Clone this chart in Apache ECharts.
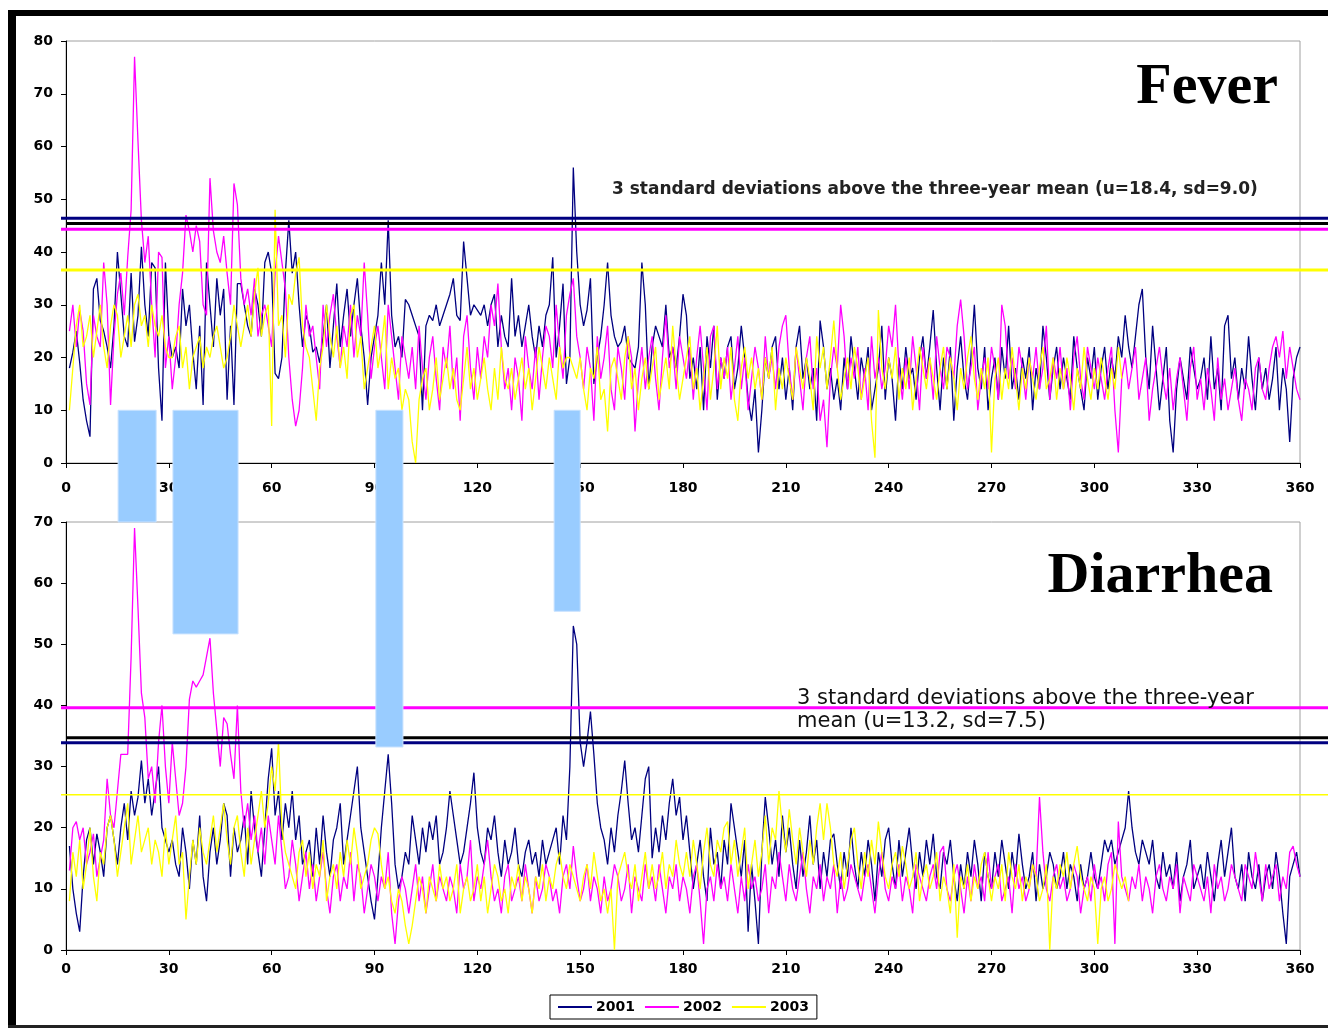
<!DOCTYPE html>
<html>
<head>
<meta charset="utf-8">
<script src="https://cdn.jsdelivr.net/npm/echarts@6/dist/echarts.min.js"></script>
<style>
html,body{margin:0;padding:0;background:#fff;}
#chart{width:1328px;height:1028px;}
</style>
</head>
<body>
<div id="chart"></div>
<script>
// ---------- DATA ----------
const seriesNames = ['2001', '2002', '2003'];
const seriesColors = ['#000080', '#ff00ff', '#ffff00'];
const xTicks = { min: 0, max: 360, interval: 30 };

const fever2001 = [
18,21,25,19,12,8,5,33,35,27,
25,22,18,26,40,32,24,22,36,23,
28,41,30,24,38,37,18,8,38,24,
20,22,18,33,26,30,21,14,26,11,
38,30,22,35,28,33,12,26,11,34,
34,30,26,24,33,30,24,38,40,36,
17,16,20,36,46,36,40,30,22,28,
26,21,22,19,24,30,18,26,34,22,
28,33,24,30,35,26,20,11,20,24,
28,38,30,46,28,22,24,20,31,30,
28,26,24,10,26,28,27,30,26,28,
30,32,35,28,27,42,35,28,30,29,
28,30,26,30,32,22,28,24,22,35,
24,28,22,26,30,24,20,26,22,28,
30,39,20,26,34,15,20,56,40,30,
26,29,35,15,20,24,30,38,28,24,
22,23,26,20,19,18,22,38,30,14,
22,26,24,22,30,20,22,18,24,32,
28,16,20,14,22,10,24,18,26,12,
20,16,22,24,14,18,26,20,12,8,
14,2,10,20,16,22,24,14,20,12,
18,10,22,26,16,20,14,18,8,27,
22,14,18,12,16,10,20,14,24,18,
12,20,16,22,10,14,18,26,12,20,
16,8,20,14,22,16,18,12,20,24,
16,22,29,18,10,20,14,22,8,18,
24,16,12,20,30,18,14,22,10,16,
20,12,22,16,26,14,18,12,20,16,
22,10,18,14,26,20,12,18,22,14,
20,16,12,24,18,14,10,20,16,22,
12,18,22,14,20,16,24,20,28,22,
18,24,30,33,20,14,26,18,10,16,
22,8,2,14,20,16,12,22,18,14,
16,20,12,24,14,18,10,26,28,16,
20,12,18,14,24,16,10,20,14,18,
12,16,22,10,18,14,4,16,20,22
];
const fever2002 = [
25,30,22,29,25,15,11,28,24,22,
38,30,11,24,32,36,28,39,48,77,
61,46,38,43,30,20,40,39,18,24,
14,20,30,36,47,44,40,45,42,30,
28,54,44,40,38,43,36,30,53,49,
35,30,33,28,35,24,28,30,26,22,
36,43,38,33,20,12,7,10,18,30,
24,26,20,14,30,22,28,32,24,18,
26,22,30,20,28,24,38,28,16,22,
26,20,14,30,24,18,12,24,20,16,
22,14,26,18,12,20,24,16,10,22,
18,26,14,20,8,24,28,18,12,22,
16,24,20,30,26,34,22,14,18,10,
20,16,8,24,18,14,22,12,20,26,
24,18,30,22,16,28,32,35,24,20,
14,22,18,8,24,16,20,26,14,10,
22,18,12,24,20,6,16,22,14,20,
24,16,10,20,28,18,22,14,24,20,
16,22,12,20,26,18,10,24,26,14,
20,16,22,12,18,24,14,20,10,16,
22,18,12,24,16,20,14,22,26,28,
18,12,22,16,10,20,24,14,18,8,
12,3,16,22,18,30,24,14,20,16,
22,12,18,10,24,16,20,14,18,26,
22,30,18,12,20,14,24,18,10,22,
16,20,12,24,18,14,22,20,16,26,
31,24,14,18,22,10,16,20,14,22,
18,12,30,26,16,20,14,22,18,12,
20,16,22,14,18,26,12,20,16,22,
14,18,10,20,24,16,12,22,18,14,
20,16,12,18,22,10,2,16,20,14,
18,22,12,16,20,8,14,18,22,16,
12,18,10,16,20,14,8,18,22,12,
16,10,18,14,8,20,12,16,10,14,
18,12,8,16,14,10,18,20,14,12,
18,22,24,20,25,16,22,18,14,12
];
const fever2003 = [
10,18,26,30,22,24,28,20,25,30,
22,18,26,30,28,20,24,28,22,30,
32,26,28,22,30,26,24,28,22,20,
20,24,26,18,22,14,20,22,24,18,
22,20,24,26,22,18,20,24,30,26,
22,26,30,24,32,37,24,28,30,7,
48,26,28,20,32,30,36,39,26,22,
20,14,8,18,22,30,24,20,26,18,
22,16,28,30,20,24,14,18,22,26,
18,22,28,14,20,16,18,10,14,12,
4,0,12,16,18,10,14,20,12,16,
20,14,18,12,10,16,22,14,18,12,
16,20,14,10,18,12,22,16,14,18,
12,16,20,14,18,10,16,22,18,14,
20,16,12,22,18,20,20,18,16,20,
14,10,18,16,22,12,14,6,18,20,
16,12,20,24,14,18,10,16,20,14,
18,22,12,16,20,14,26,18,12,16,
20,24,14,18,10,16,22,12,18,26,
14,20,16,22,12,8,18,22,16,20,
14,18,12,20,16,22,10,18,14,20,
16,12,22,18,14,20,16,10,24,18,
22,14,20,27,18,12,16,20,14,22,
18,12,16,20,8,1,29,18,14,20,
16,22,12,18,14,20,10,16,22,18,
14,20,16,12,18,22,14,20,16,10,
18,14,20,24,16,12,18,14,20,2,
16,20,12,18,14,22,16,10,18,14,
20,16,12,18,22,14,16,20,12,18,
14,20,16,10,18,14,22,16,12,18,
14,20,16,12,18,14,22,16
];

const diarrhea2001 = [
17,10,6,3,12,18,20,14,19,16,
12,20,22,18,14,20,24,18,26,22,
25,31,24,28,22,26,30,20,18,16,
18,14,12,20,16,10,18,14,22,12,
8,16,20,14,18,24,22,12,20,16,
18,22,14,26,20,16,12,20,28,33,
22,26,18,24,20,26,18,22,14,16,
18,12,20,14,22,16,12,18,20,24,
14,18,22,26,30,20,16,12,8,5,
12,20,26,32,24,14,10,12,16,14,
22,18,14,20,16,21,18,22,14,16,
20,26,22,18,14,16,20,24,29,20,
16,14,20,18,22,16,12,18,14,16,
20,14,12,16,18,14,16,12,18,14,
16,18,20,14,22,18,30,53,50,34,
30,34,39,32,24,20,18,14,20,16,
22,26,31,24,18,20,16,22,28,30,
15,20,16,22,18,24,28,22,25,18,
22,16,10,14,18,12,8,20,14,16,
10,18,14,24,20,16,12,18,3,14,
8,1,16,25,20,14,18,12,22,16,
20,14,10,18,12,16,22,14,18,10,
16,12,18,19,14,10,16,12,20,14,
10,16,12,18,14,8,16,12,18,20,
14,10,18,12,16,20,14,10,16,12,
18,14,19,12,10,16,14,18,12,8,
14,10,16,12,18,14,8,16,12,10,
16,12,18,14,10,16,12,19,14,10,
12,16,8,14,10,12,16,14,10,12,
16,10,14,12,8,14,10,12,16,12,
10,14,18,16,18,14,16,18,20,26,
20,16,14,18,16,14,18,12,10,16,
12,14,10,16,8,12,14,18,10,12,
14,10,16,12,8,14,18,12,16,20,
12,10,14,8,16,12,10,14,8,12,
14,10,16,12,6,1,12,14,16,12
];
const diarrhea2002 = [
13,20,21,18,20,14,16,19,12,15,
18,28,22,20,26,32,32,32,48,69,
56,42,38,28,30,24,34,40,30,24,
34,28,22,24,30,41,44,43,44,45,
48,51,42,36,30,38,37,32,28,40,
26,20,24,18,22,16,20,14,22,18,
14,22,16,10,12,18,14,8,12,16,
10,14,8,12,16,10,6,12,14,8,
12,10,16,8,14,12,6,10,14,12,
8,12,10,16,6,1,8,12,10,6,
10,14,8,12,6,10,14,8,12,10,
8,12,10,6,14,10,12,18,8,12,
10,14,18,12,8,10,6,12,14,8,
10,12,8,14,10,6,12,8,10,14,
12,8,10,6,12,14,10,17,12,8,
10,14,8,12,10,6,12,8,10,14,
12,8,10,14,6,12,10,8,14,10,
12,8,14,10,6,12,10,14,8,12,
10,6,12,14,8,1,10,12,8,14,
10,12,8,14,10,6,12,8,14,10,
12,8,10,14,6,12,10,16,12,8,
14,10,8,12,16,10,6,12,10,14,
8,12,10,14,6,12,8,10,14,12,
10,8,12,14,10,6,12,16,10,8,
12,10,14,8,12,10,6,14,12,10,
8,12,14,10,16,17,10,8,12,14,
10,6,12,8,14,10,12,8,16,10,
12,14,8,10,12,6,14,10,12,8,
10,14,12,25,16,10,8,12,14,10,
12,8,10,14,12,6,10,12,8,14,
10,12,8,14,16,1,21,12,10,8,
12,10,14,8,12,10,6,12,14,10,
8,12,10,14,6,12,10,8,14,12,
10,8,12,6,14,10,12,8,10,14,
12,10,8,14,12,10,16,12,8,14,
10,12,14,8,12,10,16,17,14,12
];
const diarrhea2003 = [
8,16,12,18,10,14,20,12,8,16,
14,20,22,18,12,16,20,24,14,18,
22,16,18,20,14,18,16,12,20,14,
18,22,14,16,5,12,18,14,20,16,
14,18,22,16,20,24,18,14,20,22,
16,12,20,14,18,22,26,20,24,30,
26,34,20,16,14,12,10,16,18,12,
16,10,14,12,18,8,12,14,10,16,
12,18,14,20,16,10,12,14,18,20,
19,14,10,12,8,6,10,8,4,1,
4,8,12,10,6,12,10,8,14,10,
12,8,10,14,6,10,12,8,10,14,
8,12,6,10,14,12,8,10,6,12,
10,14,8,12,10,6,12,10,14,8,
12,10,14,16,12,10,14,12,10,8,
12,14,10,16,12,8,10,6,10,0,
12,14,16,12,10,14,8,12,16,10,
14,10,12,16,10,14,12,18,14,12,
16,12,18,14,10,16,20,14,12,18,
16,20,21,14,18,12,16,20,10,14,
18,12,16,22,14,20,18,26,20,16,
23,18,14,20,16,12,18,14,20,24,
18,24,20,14,12,16,10,14,18,20,
14,10,16,12,18,14,21,16,12,10,
14,16,12,17,14,10,12,16,8,12,
14,10,12,16,8,12,10,6,14,2,
12,10,14,8,12,10,14,16,12,8,
12,10,14,8,16,12,10,14,8,12,
10,14,12,8,10,14,0,12,10,14,
12,16,10,14,17,12,10,8,12,10,
1,10,12,8,10,14,12,10,12,8
];

// Threshold lines (3 SD above mean): per-year and three-year overall (black)
const feverThresholdValues = [46.4, 45.4, 44.3, 36.6];
const feverThresholdColors = ['#000080', '#000000', '#ff00ff', '#ffff00'];
const feverThresholdWidths = [3, 3, 3, 3];
const diarrheaThresholdValues = [39.6, 34.7, 33.9, 25.4];
const diarrheaThresholdColors = ['#ff00ff', '#000000', '#000080', '#ffff00'];
const diarrheaThresholdWidths = [3, 3, 3, 1.5];

// Highlighted outbreak periods: [startDay, endDay, fever value (top), diarrhea value (bottom)]
const periodStart = [15.2, 31.2, 90.4, 142.4];
const periodEnd = [26.3, 50.2, 98.3, 150.0];
const periodFeverTop = [10, 10, 10, 10];
const periodDiarrheaBottom = [70, 51.7, 33.2, 55.4];

const feverYAxis = { min: 0, max: 80, interval: 10 };
const diarrheaYAxis = { min: 0, max: 70, interval: 10 };

const feverTitle = 'Fever';
const diarrheaTitle = 'Diarrhea';
const feverNote = '3 standard deviations above the three-year mean (u=18.4, sd=9.0)';
const diarrheaNote = ['3 standard deviations above the three-year', 'mean (u=13.2, sd=7.5)'];

// ---------- CHART ----------
const toPairs = arr => arr.map((v, i) => [i + 1, v]);
const chart = echarts.init(document.getElementById('chart'), null, { renderer: 'canvas' });

const labelStyle = { color: '#000', fontWeight: 'bold', fontSize: 14, fontFamily: 'DejaVu Sans' };
function xAxisCfg(gi, margin) {
  return {
    type: 'value', gridIndex: gi, min: xTicks.min, max: xTicks.max, interval: xTicks.interval,
    axisLine: { show: true, onZero: false, lineStyle: { color: '#000', width: 1 } },
    axisTick: { show: true, length: 5, lineStyle: { color: '#000' } },
    axisLabel: Object.assign({ margin: margin }, labelStyle),
    splitLine: { show: false }
  };
}
function yAxisCfg(gi, cfg) {
  return {
    type: 'value', gridIndex: gi, min: cfg.min, max: cfg.max, interval: cfg.interval,
    axisLine: { show: true, lineStyle: { color: '#000', width: 1 } },
    axisTick: { show: true, length: 5, lineStyle: { color: '#000' } },
    axisLabel: Object.assign({ margin: 13 }, labelStyle),
    splitLine: { show: false }
  };
}
function lineSeries(name, idx, gi, arr) {
  return {
    name: name, type: 'line', xAxisIndex: gi, yAxisIndex: gi,
    data: toPairs(arr), showSymbol: false, symbol: 'none',
    lineStyle: { color: seriesColors[idx], width: 1.3 },
    itemStyle: { color: seriesColors[idx] },
    animation: false, silent: true
  };
}

chart.setOption({
  backgroundColor: '#fff',
  animation: false,
  grid: [
    { left: 66, right: 28, top: 41, height: 422, show: true, borderColor: '#a0a0a0', borderWidth: 1, backgroundColor: 'transparent' },
    { left: 66, right: 28, top: 522, height: 428, show: true, borderColor: '#a0a0a0', borderWidth: 1, backgroundColor: 'transparent' }
  ],
  xAxis: [xAxisCfg(0, 18), xAxisCfg(1, 12)],
  yAxis: [yAxisCfg(0, feverYAxis), yAxisCfg(1, diarrheaYAxis)],
  legend: {
    left: 550, top: 995, orient: 'horizontal',
    data: seriesNames, icon: 'rect', itemWidth: 34, itemHeight: 2, itemGap: 10,
    borderColor: '#000', borderWidth: 1, padding: [5, 8, 5, 8],
    textStyle: { color: '#000', fontWeight: 'bold', fontSize: 14, fontFamily: 'DejaVu Sans', padding: [0, 0, 0, -1] }
  },
  series: [
    lineSeries('2001', 0, 0, fever2001),
    lineSeries('2002', 1, 0, fever2002),
    lineSeries('2003', 2, 0, fever2003),
    lineSeries('2001', 0, 1, diarrhea2001),
    lineSeries('2002', 1, 1, diarrhea2002),
    lineSeries('2003', 2, 1, diarrhea2003)
  ]
});

// ---------- overlays positioned through the axes ----------
const W = chart.getWidth(), H = chart.getHeight();
const px = (gi, x, y) => chart.convertToPixel({ gridIndex: gi }, [x, y]);
const g = [];

// frame
g.push({ type: 'rect', shape: { x: 8, y: 10, width: W - 8, height: 6 }, style: { fill: '#000' }, z: 200 });
g.push({ type: 'rect', shape: { x: 8, y: 10, width: 8, height: H - 10 }, style: { fill: '#000' }, z: 200 });
g.push({ type: 'rect', shape: { x: 8, y: H - 3, width: W - 8, height: 3 }, style: { fill: '#222' }, z: 200 });

function thresholdLines(gi, vals, cols, widths) {
  vals.forEach((v, i) => {
    const p0 = px(gi, xTicks.min, v);
    const isBlack = cols[i] === '#000000';
    g.push({
      type: 'line',
      shape: { x1: isBlack ? p0[0] : p0[0] - 5, y1: p0[1], x2: W, y2: p0[1] },
      style: { stroke: cols[i], lineWidth: widths[i] },
      z: 50
    });
  });
}
thresholdLines(0, feverThresholdValues, feverThresholdColors, feverThresholdWidths);
thresholdLines(1, diarrheaThresholdValues, diarrheaThresholdColors, diarrheaThresholdWidths);

// highlighted periods spanning both panels
periodStart.forEach((s, i) => {
  const a = px(0, s, periodFeverTop[i]);
  const b = px(1, periodEnd[i], periodDiarrheaBottom[i]);
  g.push({
    type: 'rect',
    shape: { x: a[0], y: a[1], width: b[0] - a[0], height: b[1] - a[1] },
    style: { fill: '#99ccff', stroke: '#c8e2ff', lineWidth: 1 },
    z: 100
  });
});

// titles and notes
g.push({ type: 'text', x: 1278, y: 88, z: 120,
  style: { text: feverTitle, font: 'bold 58px "Liberation Serif"', fill: '#000', textAlign: 'right', textVerticalAlign: 'middle' } });
g.push({ type: 'text', x: 1273, y: 577, z: 120,
  style: { text: diarrheaTitle, font: 'bold 58px "Liberation Serif"', fill: '#000', textAlign: 'right', textVerticalAlign: 'middle' } });
g.push({ type: 'text', x: 612, y: 190, z: 120,
  style: { text: feverNote, font: 'bold 17px "DejaVu Sans"', fill: '#222', textAlign: 'left', textVerticalAlign: 'middle' } });
g.push({ type: 'text', x: 797, y: 699, z: 120,
  style: { text: diarrheaNote[0], font: '21px "DejaVu Sans"', fill: '#111', textAlign: 'left', textVerticalAlign: 'middle' } });
g.push({ type: 'text', x: 797, y: 722, z: 120,
  style: { text: diarrheaNote[1], font: '21px "DejaVu Sans"', fill: '#111', textAlign: 'left', textVerticalAlign: 'middle' } });

chart.setOption({ graphic: { elements: g } });
</script>
</body>
</html>
